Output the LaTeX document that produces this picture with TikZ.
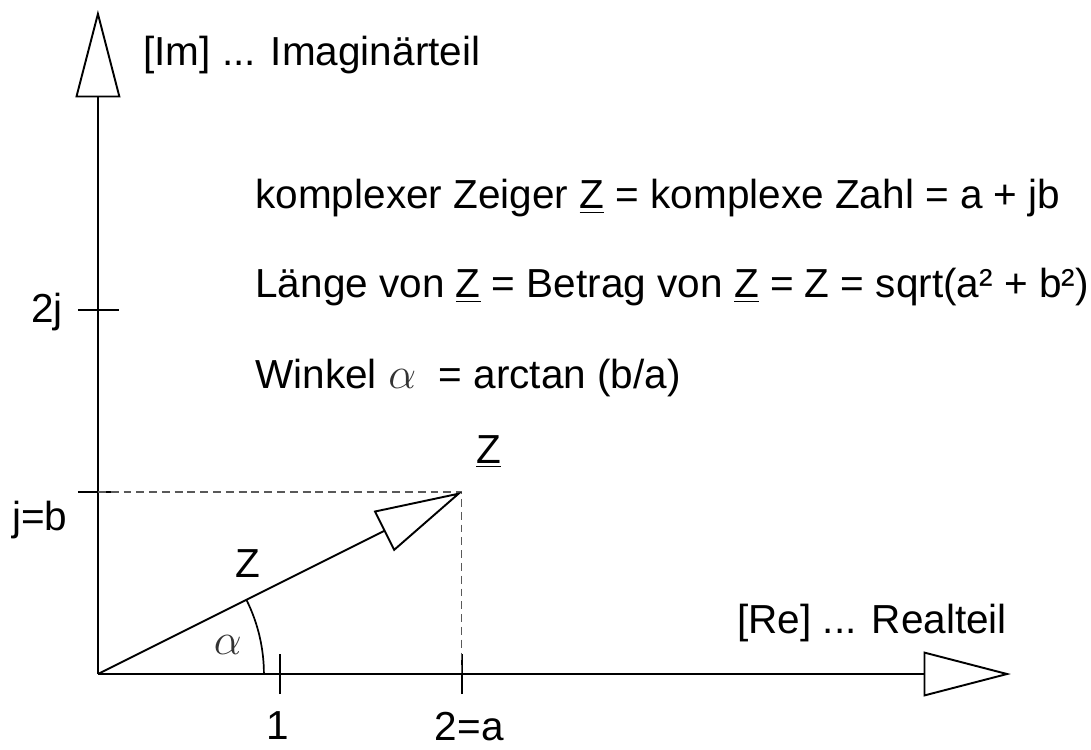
\documentclass[tikz,border=0pt]{standalone}
\usepackage{fontspec}
\setmainfont{Liberation Sans}
\usepackage{tikz}
\usetikzlibrary{arrows.meta,positioning,calc}

\begin{document}
\begin{tikzpicture}[
  x=3cm, y=3cm,
  font=\fontsize{19}{23}\selectfont,
  axis/.style={line width=0.9pt, -{Triangle[open, length=41pt, width=21pt]}},
  tick/.style={line width=0.9pt},
  guide/.style={line width=0.5pt, black!65, dash pattern=on 3.7pt off 2.3pt},
  lbl/.style={inner sep=0pt, anchor=base},
  greek/.style={font=\fontsize{22}{26}\selectfont, text=black!80, inner sep=0pt},
]
\useasboundingbox (-0.538,-0.412) rectangle (5.456,3.703);

\coordinate (O) at (0,0);
\coordinate (ReEnd) at (5.016,0);
\coordinate (ImEnd) at (0,3.648);
\coordinate (Zend) at (2,1);
\coordinate (Zre) at (2,0);
\coordinate (Zim) at (0,1);

\draw[axis] (O) -- (ReEnd);
\draw[axis] (O) -- (ImEnd);

\foreach \x in {1,2}
  \draw[tick] (\x,-0.11) -- (\x,0.11);
\foreach \y in {1,2}
  \draw[tick] (-0.11,\y) -- (0.115,\y);

\draw[guide] (Zim) -- (Zend) -- (Zre);
\draw[axis] (O) -- (Zend);
\draw[line width=0.8pt] (O) ++(0.912,0) arc[start angle=0, end angle=26.57, radius=0.912];

\node[lbl] (one) at (0.989,-0.36) {1};
\node[lbl] (twoa) at (2.04,-0.365) {2=a};
\node[lbl, anchor=base east] (twoj) at (-0.192,1.929) {2j};
\node[lbl, anchor=base east] (jb) at (-0.165,0.791) {j=b};
\node[lbl] (betrag) at (0.824,0.533) {Z};
\node[lbl] (zeiger) at (2.146,1.159) {\underline{Z}};
\node[greek] (alpha) at (0.714,0.159) {$\alpha$};

\node[lbl, anchor=base west] (im) at (0.247,3.341) {[Im] ... Imaginärteil};
\node[lbl, anchor=base west] (re) at (3.511,0.225) {[Re] ... Realteil};

\node[lbl, anchor=base west] (zeile1) at (0.863,2.555)
  {komplexer Zeiger \underline{Z} = komplexe Zahl = a + jb};
\node[lbl, anchor=base west] (zeile2) at (0.863,2.066)
  {Länge von \underline{Z} = Betrag von \underline{Z} = Z = sqrt(a² + b²)};
\node[lbl, anchor=base west] (zeile3) at (0.863,1.571)
  {Winkel {\fontsize{22}{26}\selectfont\color{black!80}$\alpha$}\ \ = arctan (b/a)};

\end{tikzpicture}
\end{document}
